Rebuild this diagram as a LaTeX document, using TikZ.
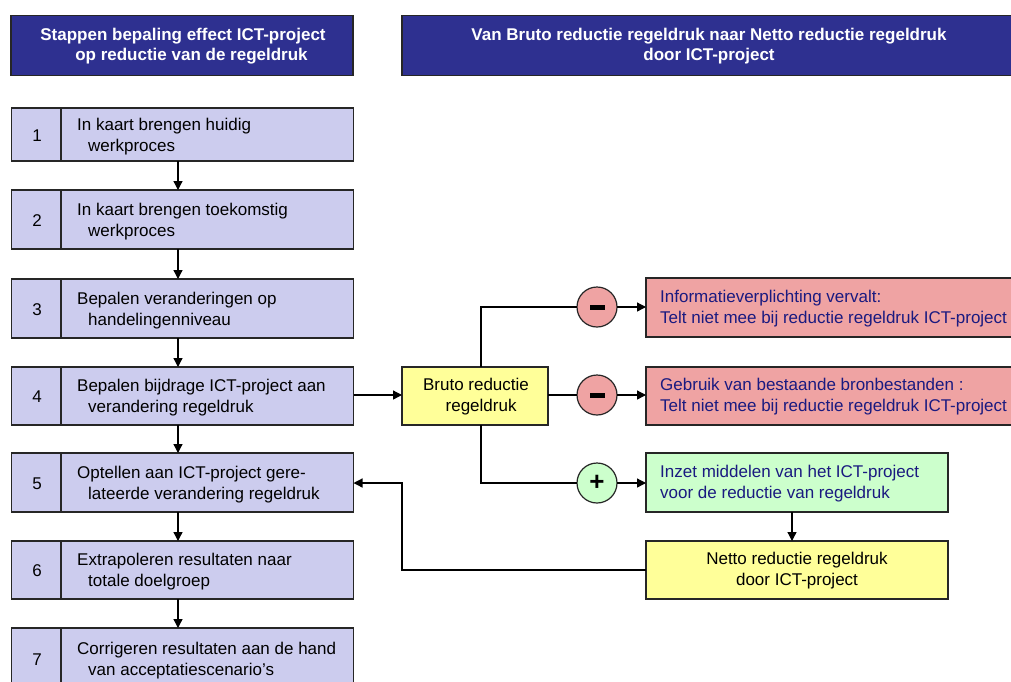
\documentclass[tikz,border=0pt]{standalone}
\usepackage{fontspec}
\setmainfont{Liberation Sans}
\usetikzlibrary{arrows.meta}
\definecolor{navy}{HTML}{2E3090}
\definecolor{lav}{HTML}{CCCCEE}
\definecolor{yel}{HTML}{FFFF99}
\definecolor{rose}{HTML}{EFA3A3}
\definecolor{mint}{HTML}{CCFFCC}
\definecolor{dtext}{HTML}{1A1A80}
\tikzset{
  x=1pt,y=-1pt,
  box/.style={draw=black!85,line width=1.2pt,inner sep=0pt,outer sep=0pt},
  hdr/.style={box,fill=navy},
  hdrtxt/.style={text=white,font=\fontsize{17}{20}\selectfont\bfseries,align=center},
  stepbox/.style={box,fill=lav,minimum width=342pt},
  num/.style={font=\fontsize{17}{20}\selectfont},
  txt/.style={font=\fontsize{17}{21}\selectfont,align=left,anchor=west,inner sep=0pt},
  ctxt/.style={font=\fontsize{17}{21}\selectfont,align=center},
  sign/.style={box,circle,minimum size=40pt},
  conn/.style={line width=1.3pt,black},
  arr/.style={conn,-{Triangle[length=9pt,width=9pt]}},
}
\begin{document}
\begin{tikzpicture}
\useasboundingbox (0,0) rectangle (1011,681);
\begin{scope}
\clip (0,0) rectangle (1011,681);
% headers
\node[hdr,minimum width=342pt,minimum height=60pt] (h1) at (182,45.5) {};
\node[hdrtxt] (h1t) at (183,46.5) {Stappen bepaling effect ICT-project\\\hspace{1em}op reductie van de regeldruk};
\node[hdr,minimum width=620pt,minimum height=60pt] (h2) at (712,45.5) {};
\node[hdrtxt] (h2t) at (709,46.5) {Van Bruto reductie regeldruk naar Netto reductie regeldruk\\door ICT-project};
% steps
\foreach \n/\yt/\yb/\la/\lb in {
 1/108/161/{In kaart brengen huidig}/{werkproces},
 2/190/249/{In kaart brengen toekomstig}/{werkproces},
 3/279/338/{Bepalen veranderingen op}/{handelingenniveau},
 4/367/425/{Bepalen bijdrage ICT-project aan}/{verandering regeldruk},
 5/453/512/{Optellen aan ICT-project gere-}/{lateerde verandering regeldruk},
 6/541/599/{Extrapoleren resultaten naar}/{totale doelgroep},
 7/628/690/{Corrigeren resultaten aan de hand}/{van acceptatiescenario’s}}{
  \node[stepbox,minimum height={\yb-\yt}] (s\n) at (182.5,{(\yt+\yb)/2}) {};
  \draw[box] (61,\yt) -- (61,\yb);
  \node[num] (n\n) at (37,{(\yt+\yb)/2+1}) {\n};
  \node[txt] (t\n) at (77,{(\yt+\yb)/2+2}) {\la\\\hspace{11pt}\lb};
}
% right side
\node[box,fill=yel,minimum width=146pt,minimum height=58pt] (bruto) at (475,396) {};
\node[ctxt] (brutot) at (476,397) {Bruto reductie\\\hspace{0.6em}regeldruk};
\node[sign,fill=rose] (m1) at (597,307) {};
\fill (590,304.5) rectangle (605,309.5);
\node[sign,fill=rose] (m2) at (597,395) {};
\fill (590,392.5) rectangle (605,397.5);
\node[sign,fill=mint,font=\fontsize{26}{26}\selectfont\bfseries] (p1) at (597,483) {+};
\node[box,fill=rose,minimum width=380pt,minimum height=59pt] (r1) at (836,307.5) {};
\node[txt,text=dtext] (r1t) at (660,309) {Informatieverplichting vervalt:\\Telt niet mee bij reductie regeldruk ICT-project};
\node[box,fill=rose,minimum width=380pt,minimum height=58pt] (r2) at (836,396) {};
\node[txt,text=dtext] (r2t) at (660,397) {Gebruik van bestaande bronbestanden :\\Telt niet mee bij reductie regeldruk ICT-project};
\node[box,fill=mint,minimum width=302pt,minimum height=59pt] (g1) at (797,482.5) {};
\node[txt,text=dtext] (g1t) at (660,484) {Inzet middelen van het ICT-project\\voor de reductie van regeldruk};
\node[box,fill=yel,minimum width=302pt,minimum height=58pt] (netto) at (797,570) {};
\node[ctxt] (nettot) at (797,571) {Netto reductie regeldruk\\door ICT-project};
% connectors
\foreach \a/\b in {1/2,2/3,3/4,4/5,5/6,6/7}{
  \draw[arr] (178,0 |- s\a.south) -- (178,0 |- s\b.north);
}
\draw[arr] (s4.east |- 0,395) -- (bruto.west |- 0,395);
\draw[conn] (bruto.north -| 481,0) |- (m1.west);
\draw[arr] (m1.east) -- (r1.west |- m1);
\draw[conn] (bruto.east |- m2) -- (m2.west);
\draw[arr] (m2.east) -- (r2.west |- m2);
\draw[conn] (bruto.south -| 481,0) |- (p1.west);
\draw[arr] (p1.east) -- (g1.west |- p1);
\draw[arr] (792,0 |- g1.south) -- (792,0 |- netto.north);
\coordinate (bend) at (402,483);
\draw[arr] (netto.west) -| (bend) -- (s5.east |- bend);
\end{scope}
\end{tikzpicture}
\end{document}
